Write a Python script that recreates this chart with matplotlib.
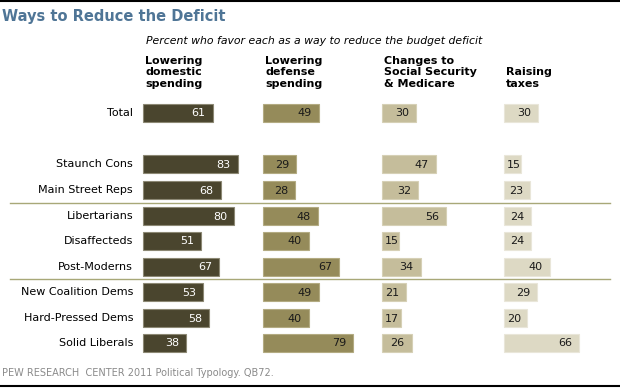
import matplotlib.pyplot as plt
import numpy as np

groups = ["Total", "Staunch Cons", "Main Street Reps", "Libertarians", "Disaffecteds",
          "Post-Moderns", "New Coalition Dems", "Hard-Pressed Dems", "Solid Liberals"]
domestic = [61, 83, 68, 80, 51, 67, 53, 58, 38]
defense = [49, 29, 28, 48, 40, 67, 49, 40, 79]
social = [30, 47, 32, 56, 15, 34, 21, 17, 26]
taxes = [30, 15, 23, 24, 24, 40, 29, 20, 66]
headers = ["Lowering\ndomestic\nspending", "Lowering\ndefense\nspending",
           "Changes to\nSocial Security\n& Medicare", "Raising\ntaxes"]

colors = ["#4a452e", "#958b5a", "#c5bd9b", "#ddd9c4"]
edges = ["#8c8874", "#b3ab82", "#d6d0b6", "#e9e6d9"]
txtcol = ["white", "#1a1a1a", "#1a1a1a", "#1a1a1a"]
col_x = [143, 263, 382, 504]          # pixel left edge of each column
px = 1.14                             # pixels per percentage point
row_y = [113, 164, 190, 216, 241, 267, 292, 318, 343]

fig = plt.figure(figsize=(6.2, 3.88), dpi=100)
ax = fig.add_axes([0, 0, 1, 1])
ax.set_xlim(0, 620)
ax.set_ylim(388, 0)
ax.axis("off")

for j, vals in enumerate([domestic, defense, social, taxes]):
    w = np.array(vals) * px
    ax.barh(row_y, w, left=col_x[j], height=18.5, color=colors[j],
            edgecolor=edges[j], linewidth=0.8)
    for y, v, ww in zip(row_y, vals, w):
        xr = col_x[j] + max(ww - 7, 17)
        ax.text(xr, y + 0.5, str(v), ha="right", va="center", fontsize=8,
                color=txtcol[j])
    ax.text(col_x[j] + 2, 89, headers[j], ha="left", va="bottom",
            fontsize=8, fontweight="bold", linespacing=1.2, color="black")

for y, g in zip(row_y, groups):
    ax.text(133, y, g, ha="right", va="center", fontsize=8, color="black")

for y in [203, 279]:
    ax.plot([10, 610], [y, y], color="#a8a878", linewidth=1)

ax.plot([0, 620], [1, 1], color="black", linewidth=1.5)
ax.plot([0, 620], [386, 386], color="black", linewidth=1.5)

ax.text(2, 17, "Ways to Reduce the Deficit", ha="left", va="center", fontsize=10.5,
        fontweight="bold", color="#4f7596")
ax.text(146, 41, "Percent who favor each as a way to reduce the budget deficit",
        ha="left", va="center", fontsize=7.8, style="italic", color="black")
ax.text(2, 373, "PEW RESEARCH  CENTER 2011 Political Typology. QB72.", ha="left",
        va="center", fontsize=7, color="#8a8a8a")

fig.savefig("out.png", dpi=100)
